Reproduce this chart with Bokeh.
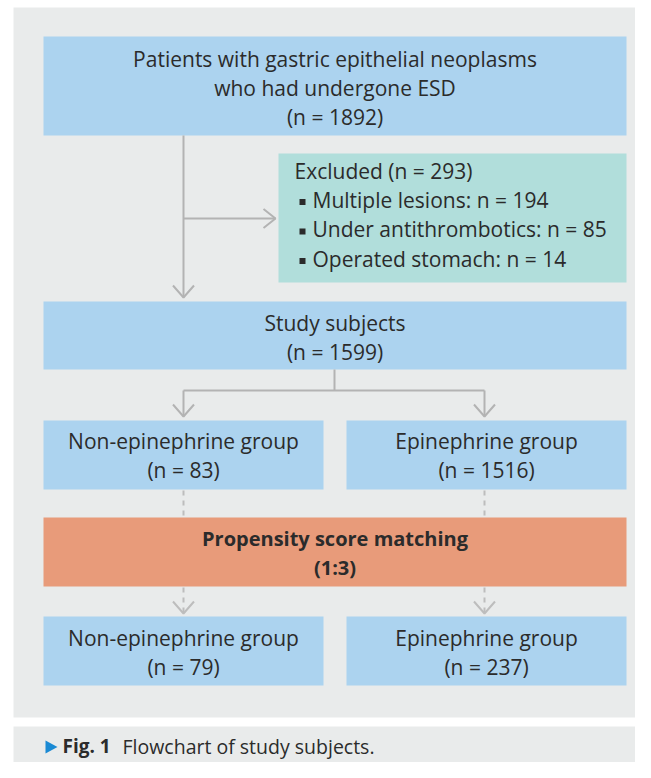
from bokeh.plotting import figure
from bokeh.models import Range1d
from bokeh.core.properties import value
from bokeh.embed import file_html
from bokeh.resources import INLINE

# ---------------- data ----------------
title_lines = ["Patients with gastric epithelial neoplasms", "who had undergone ESD"]
n_total = 1892
n_excluded = 293
excl_reasons = ["Multiple lesions", "Under antithrombotics", "Operated stomach"]
excl_counts = [194, 85, 14]
study_label = "Study subjects"
n_study = 1599
group_names = ["Non-epinephrine group", "Epinephrine group"]
n_before = [83, 1516]
psm_label = "Propensity score matching"
psm_ratio = "1:3"
n_after = [79, 237]
caption_tag = "Fig. 1"
caption_text = "Flowchart of study subjects."

# ---------------- style ----------------
FONT = "Open Sans"
FS = 21
TXT = "#2b2b2b"
PANEL = "#e9ebeb"
BLUE = "#acd3ef"
TEAL = "#b1dedb"
SALMON = "#e89b7a"
LINE = "#b3b3b3"
DASH = "#bdbdbd"

W, H = 635, 762
p = figure(width=W, height=H, x_range=Range1d(0, W), y_range=Range1d(H, 0),
           output_backend="svg", toolbar_location=None, min_border=0)
p.axis.visible = False
p.grid.visible = False
p.outline_line_color = None
p.background_fill_color = "white"
p.border_fill_color = "white"

# panels
p.quad(left=[13, 13], right=[W, W], top=[7, 726], bottom=[717, H],
       fill_color=PANEL, line_color=None)

# boxes
L1, R1 = 43, 323
L2, R2 = 346, 626
boxes = [
    (43, 626, 36, 135, BLUE),
    (278, 626, 153, 282, TEAL),
    (43, 626, 301, 369, BLUE),
    (L1, R1, 420, 489, BLUE),
    (L2, R2, 420, 489, BLUE),
    (43, 626, 517, 586, SALMON),
    (L1, R1, 616, 685, BLUE),
    (L2, R2, 616, 685, BLUE),
]
p.quad(left=[b[0] for b in boxes], right=[b[1] for b in boxes],
       top=[b[2] for b in boxes], bottom=[b[3] for b in boxes],
       fill_color=[b[4] for b in boxes], line_color=None)

# connectors (solid)
xl, xr, xm = 183, 484, 334
p.multi_line(xs=[[xl, xl], [xl, 275], [xm, xm], [xl, xr], [xl, xl], [xr, xr]],
             ys=[[135, 297], [218, 218], [369, 390], [390, 390], [390, 416], [390, 416]],
             line_color=LINE, line_width=2)


def chev_down(x, y):
    return [x - 10.5, x, x + 10.5], [y - 12, y, y - 12]


def chev_right(x, y):
    return [x - 12, x, x - 12], [y - 9.5, y, y + 9.5]


heads = [chev_down(xl, 297), chev_right(275, 218), chev_down(xl, 416), chev_down(xr, 416)]
p.multi_line(xs=[h[0] for h in heads], ys=[h[1] for h in heads], line_color=LINE, line_width=2)

# dashed connectors
p.multi_line(xs=[[xl, xl], [xr, xr], [xl, xl], [xr, xr]],
             ys=[[490, 517], [490, 517], [587, 612], [587, 612]],
             line_color=DASH, line_width=2, line_dash="5 5")
dheads = [chev_down(xl, 613), chev_down(xr, 613)]
p.multi_line(xs=[h[0] for h in dheads], ys=[h[1] for h in dheads], line_color=DASH, line_width=2)


def txt(x, y, s, align="center", bold=False, size=FS):
    # y is the intended alphabetic baseline; compensate the renderer's offset
    p.text(x=[x], y=[y - 0.38 * size], text=[s], text_align=align, text_baseline="alphabetic",
           text_font=value(FONT), text_font_size=f"{size}px", text_color=TXT,
           text_font_style="bold" if bold else "normal")


cx = 334.5
txt(cx, 66, title_lines[0])
txt(cx, 95, title_lines[1])
txt(cx, 124, f"(n = {n_total})")

txt(294, 178, f"Excluded (n = {n_excluded})", align="left")
for i, (r, c) in enumerate(zip(excl_reasons, excl_counts)):
    base = 207 + i * 29.5
    p.quad(left=[299], right=[305], top=[base - 8.5], bottom=[base - 2.5], fill_color=TXT, line_color=None)
    txt(312, base, f"{r}: n = {c}", align="left")

txt(cx, 330, study_label)
txt(cx, 359, f"(n = {n_study})")

cxs = [(L1 + R1) / 2, (L2 + R2) / 2]
for cxi, g, nb, na in zip(cxs, group_names, n_before, n_after):
    txt(cxi, 448, g)
    txt(cxi, 477, f"(n = {nb})")
    txt(cxi, 645, g)
    txt(cxi, 674, f"(n = {na})")

txt(cx, 546, psm_label, bold=True, size=20)
txt(cx, 575, f"({psm_ratio})", bold=True, size=20)

# caption
cb = 753
p.patch(x=[45, 57, 45], y=[cb - 13, cb - 6.5, cb], fill_color="#1a8ad4", line_color=None)
txt(62, cb, caption_tag, align="left", bold=True, size=19)
txt(122, cb, caption_text, align="left", size=19.5)

open("out.html", "w").write(file_html(p, INLINE))
